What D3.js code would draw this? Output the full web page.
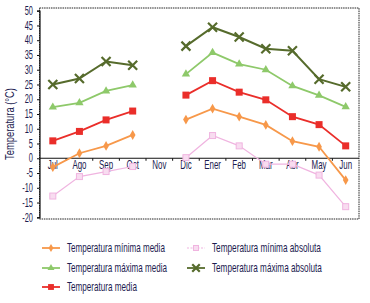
<!DOCTYPE html>
<html><head><meta charset="utf-8">
<script src="https://cdn.jsdelivr.net/npm/d3@7"></script>
<style>
html,body{margin:0;padding:0;background:#fff;}
text{font-family:"Liberation Sans","Arial",sans-serif;fill:#1c1c50;}
</style></head>
<body><svg id="c" width="370" height="303"></svg>
<script>
const months = ["Jul","Ago","Sep","Oct","Nov","Dic","Ener","Feb","Mar","Abr","May","Jun"];
const yTicks = [-20,-15,-10,-5,0,5,10,15,20,25,30,35,40,45,50];
const minMedia = [-3, 1.7, 4.2, 7.9, null, 13.1, 16.8, 14.1, 11.3, 5.8, 3.9, -7.4];
const maxMedia = [17.3, 18.8, 22.8, 24.8, null, 28.5, 35.8, 31.9, 30.0, 24.5, 21.3, 17.4];
const media = [5.9, 9.1, 13.0, 16.0, null, 21.4, 26.3, 22.4, 19.8, 14.1, 11.4, 4.2];
const minAbs = [-12.8, -6.2, -4.5, -2.8, null, 0.2, 7.7, 4.2, -2.0, -2.0, -5.7, -16.4];
const maxAbs = [25.0, 27.0, 32.8, 31.5, null, 38.0, 44.4, 41.1, 37.1, 36.4, 26.8, 24.2];

const series = [
  {name:"Temperatura mínima media", values:minMedia, color:"#f7984a", sym:"diamond", col:0, row:0, w:98},
  {name:"Temperatura máxima media", values:maxMedia, color:"#8ec96a", sym:"triangle", col:0, row:1, w:100},
  {name:"Temperatura media", values:media, color:"#ea2e2a", sym:"square", col:0, row:2, w:70},
  {name:"Temperatura mínima absoluta", values:minAbs, color:"#f0b4e0", sym:"squareHollow", col:1, row:0, w:109},
  {name:"Temperatura máxima absoluta", values:maxAbs, color:"#566b2c", sym:"x", col:1, row:1, w:110}
];

const svg = d3.select("#c");
const L=39.5, R=359, T=8, B=219;
const x = d3.scaleBand().domain(months).range([L,R]);
const y = d3.scaleLinear().domain([-20,50]).range([217.3,10.7]);
const SX = 0.62, FS = "12px";

// frame
svg.append("rect").attr("x",L).attr("y",T).attr("width",R-L).attr("height",B-T)
  .attr("fill","none").attr("stroke","#222").attr("stroke-width",1).attr("stroke-dasharray","1.5,0.8");

// y axis
const ya = svg.append("g").attr("transform",`translate(${L},0)`)
  .call(d3.axisLeft(y).tickValues(yTicks).tickSize(2.5).tickPadding(0).tickFormat(()=>""));
ya.select(".domain").attr("stroke","#111").attr("stroke-width",1.2);
ya.selectAll(".tick line").attr("stroke","#111");
yTicks.forEach(v=>{
  svg.append("text").attr("transform",`translate(33,${y(v)+4.2}) scale(${SX},1)`)
    .attr("text-anchor","end").style("font-size",FS).text(v);
});

// y title
const yt = svg.append("text").attr("text-anchor","middle").style("font-size",FS).text("Temperatura (°C)");
const ytw = yt.node().getComputedTextLength();
yt.attr("transform",`translate(14,124) rotate(-90) scale(${72/ytw},1)`);

// x axis at zero
const y0 = y(0);
svg.append("line").attr("x1",L).attr("x2",R).attr("y1",y0).attr("y2",y0).attr("stroke","#111").attr("stroke-width",1.2);
const xa = svg.append("g");
months.forEach((m,i)=>{
  if(i>0) xa.append("line").attr("x1",x(m)).attr("x2",x(m)).attr("y1",y0).attr("y2",y0+2.5).attr("stroke","#111");
  xa.append("text").attr("transform",`translate(${x(m)+x.bandwidth()/2},${y0+10.5}) scale(0.66,1)`)
    .attr("text-anchor","middle").style("font-size",FS).text(m);
});

function marker(g, sym, cx, cy, color, s){
  s = s||1;
  if(sym==="diamond"){
    g.append("path").attr("d",d3.symbol(d3.symbolDiamond, 28*s)()).attr("transform",`translate(${cx},${cy})`).attr("fill",color);
  } else if(sym==="triangle"){
    g.append("path").attr("d",d3.symbol(d3.symbolTriangle, 30*s)()).attr("transform",`translate(${cx},${cy})`).attr("fill",color);
  } else if(sym==="square"){
    const h=3.5*Math.sqrt(s);
    g.append("rect").attr("x",cx-h).attr("y",cy-h).attr("width",2*h).attr("height",2*h).attr("fill",color);
  } else if(sym==="squareHollow"){
    const h=3*Math.sqrt(s);
    g.append("rect").attr("x",cx-h).attr("y",cy-h).attr("width",2*h).attr("height",2*h).attr("fill","#f8dcf0").attr("stroke",color).attr("stroke-width",1);
  } else if(sym==="x"){
    const r=4.5*Math.sqrt(s);
    g.append("path").attr("d",`M${cx-r},${cy-r}L${cx+r},${cy+r}M${cx-r},${cy+r}L${cx+r},${cy-r}`)
      .attr("stroke",color).attr("stroke-width",2.2).attr("fill","none");
  }
}

const line = d3.line().defined(d=>d.v!==null).x(d=>x(d.m)+x.bandwidth()/2).y(d=>y(d.v));
series.forEach(s=>{
  const data = months.map((m,i)=>({m, v:s.values[i]}));
  const g = svg.append("g");
  g.append("path").datum(data).attr("d",line).attr("fill","none").attr("stroke",s.color)
    .attr("stroke-width", s.sym==="squareHollow"?1.2:(s.sym==="x"?2:1.8));
  data.filter(d=>d.v!==null).forEach(d=>marker(g,s.sym,x(d.m)+x.bandwidth()/2,y(d.v),s.color));
});

// legend
const colX=[42,187], rowY=[248,268,287];
series.forEach(s=>{
  const lx=colX[s.col], ly=rowY[s.row];
  const g=svg.append("g");
  g.append("line").attr("x1",lx).attr("x2",lx+18).attr("y1",ly).attr("y2",ly).attr("stroke",s.color)
    .attr("stroke-width",s.sym==="squareHollow"?1.2:1.8).attr("stroke-dasharray",s.sym==="squareHollow"?"2,1.5":null);
  marker(g,s.sym,lx+9,ly,s.color,0.7);
  const t = g.append("text").style("font-size",FS).text(s.name);
  const tw = t.node().getComputedTextLength();
  t.attr("transform",`translate(${lx+25},${ly+4}) scale(${s.w/tw},1)`);
});
</script></body></html>
